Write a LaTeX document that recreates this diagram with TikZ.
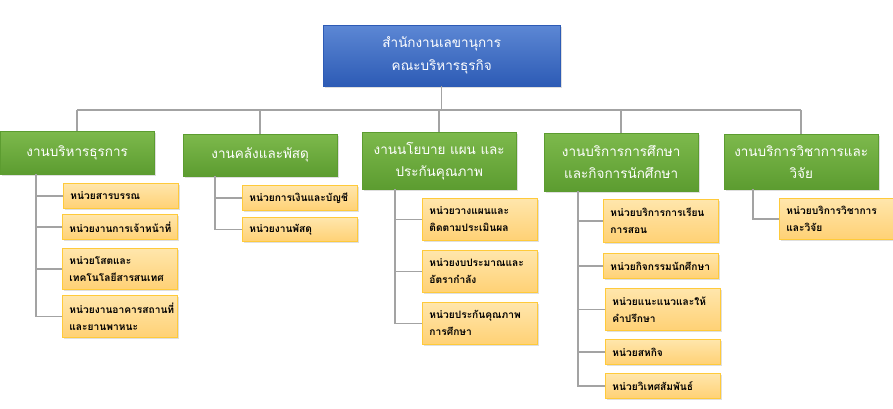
\documentclass[tikz,border=0pt]{standalone}
\usepackage{fontspec}
\newfontfamily\thaifont[Script=Thai]{Loma}
\usetikzlibrary{shadows}
\definecolor{headtop}{HTML}{5C87D4}
\definecolor{headbot}{HTML}{2D5BB5}
\definecolor{depttop}{HTML}{7DB94C}
\definecolor{deptbot}{HTML}{5C9C30}
\definecolor{unittop}{HTML}{FFE6AC}
\definecolor{unitbot}{HTML}{FFD175}
\definecolor{unitline}{HTML}{FFCA3A}
\definecolor{linkgray}{HTML}{A3A3A3}
\tikzset{
  boxshadow/.style={drop shadow={opacity=0.25, shadow xshift=1.5pt, shadow yshift=-1.5pt}},
  head/.style={anchor=north west, inner sep=0pt, top color=headtop, bottom color=headbot,
    draw=headbot, boxshadow, text=white, align=center,
    font=\thaifont\fontsize{13.5}{23}\selectfont, minimum width=237pt, minimum height=61pt},
  dept/.style={anchor=north west, inner sep=0pt, top color=depttop, bottom color=deptbot,
    draw=deptbot, boxshadow, text=white, align=center,
    font=\thaifont\fontsize{13.5}{22}\selectfont, minimum width=154pt},
  unit/.style={anchor=north west, inner sep=0pt, top color=unittop, bottom color=unitbot,
    draw=unitline, line width=0.8pt, boxshadow, text=black, align=left, text width=101pt,
    font=\thaifont\bfseries\fontsize{10.2}{17}\selectfont, minimum width=115pt},
  link/.style={draw=linkgray, line width=1.5pt}
}
\begin{document}
\begin{tikzpicture}[x=1pt,y=-1pt]
\useasboundingbox (0,0) rectangle (893,408);

% head office
\node[head] (head) at (323,25) {สำนักงานเลขานุการ\\คณะบริหารธุรกิจ};

% departments
\node[dept, minimum height=43pt] (d1) at (0,131) {งานบริหารธุรการ};
\node[dept, minimum height=42pt] (d2) at (183,134) {งานคลังและพัสดุ};
\node[dept, minimum height=57pt] (d3) at (362,132) {งานนโยบาย แผน และ\\ประกันคุณภาพ};
\node[dept, minimum height=58pt] (d4) at (544,133) {งานบริการการศึกษา\\และกิจการนักศึกษา};
\node[dept, minimum height=55pt] (d5) at (724,134) {งานบริการวิชาการและ\\วิจัย};

% units
\node[unit, minimum height=25pt] (u11) at (63,183) {หน่วยสารบรรณ};
\node[unit, minimum height=25pt] (u12) at (62,214) {หน่วยงานการเจ้าหน้าที่};
\node[unit, minimum height=41pt] (u13) at (62,248) {หน่วยโสตและ\\เทคโนโลยีสารสนเทศ};
\node[unit, minimum height=42pt] (u14) at (62,295) {หน่วยงานอาคารสถานที่\\และยานพาหนะ};

\node[unit, minimum height=25pt] (u21) at (242,185) {หน่วยการเงินและบัญชี};
\node[unit, minimum height=24pt] (u22) at (242,217) {หน่วยงานพัสดุ};

\node[unit, minimum height=42pt] (u31) at (422,198) {หน่วยวางแผนและ\\ติดตามประเมินผล};
\node[unit, minimum height=42pt] (u32) at (422,250) {หน่วยงบประมาณและ\\อัตรากำลัง};
\node[unit, minimum height=42pt] (u33) at (422,302) {หน่วยประกันคุณภาพ\\การศึกษา};

\node[unit, minimum height=43pt] (u41) at (603,199) {หน่วยบริการการเรียน\\การสอน};
\node[unit, minimum height=25pt] (u42) at (603,253) {หน่วยกิจกรรมนักศึกษา};
\node[unit, minimum height=42pt] (u43) at (605,288) {หน่วยแนะแนวและให้\\คำปรึกษา};
\node[unit, minimum height=25pt] (u44) at (605,339) {หน่วยสหกิจ};
\node[unit, minimum height=25pt] (u45) at (605,373) {หน่วยวิเทศสัมพันธ์};

\node[unit, minimum height=41pt] (u51) at (779,198) {หน่วยบริการวิชาการ\\และวิจัย};

% connectors
\coordinate (bus) at (0,110);
\draw[link] (head.south) -- (head.south|-bus);
\draw[link] (d1.north|-bus) -- (d5.north|-bus);
\foreach \d in {d1,d2,d3,d4,d5}
  \draw[link] (\d.north) -- (\d.north|-bus);

\coordinate (s1) at (36,0);
\coordinate (s2) at (215,0);
\coordinate (s3) at (395,0);
\coordinate (s4) at (578,0);
\coordinate (s5) at (753,0);
\foreach \u in {u11,u12,u13,u14}
  \draw[link] (\u.west) -| (s1|-d1.south);
\foreach \u in {u21,u22}
  \draw[link] (\u.west) -| (s2|-d2.south);
\foreach \u in {u31,u32,u33}
  \draw[link] (\u.west) -| (s3|-d3.south);
\foreach \u in {u41,u42,u43,u44,u45}
  \draw[link] (\u.west) -| (s4|-d4.south);
\draw[link] (u51.west) -| (s5|-d5.south);
\end{tikzpicture}
\end{document}
